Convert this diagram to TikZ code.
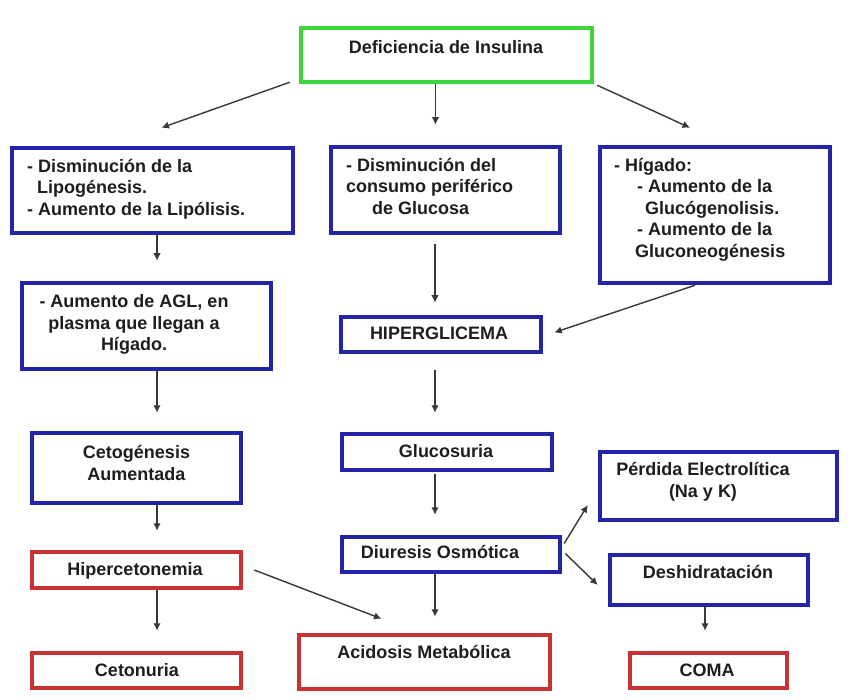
\documentclass[tikz,border=0pt]{standalone}
\usepackage{fontspec}
\setmainfont{Liberation Sans}
\usetikzlibrary{arrows.meta,calc}
\definecolor{bx}{HTML}{2424A8}
\definecolor{rx}{HTML}{C83232}
\definecolor{gx}{HTML}{3CD63C}
\definecolor{tx}{HTML}{1E1E1E}
\definecolor{ax}{HTML}{383838}
\begin{document}
\begin{tikzpicture}[x=1pt,y=-1pt,
 box/.style={draw=bx, line width=4.5pt, fill=white, rectangle, inner sep=0pt},
 redbox/.style={box, draw=rx},
 greenbox/.style={box, draw=gx},
 txt/.style={text=tx, font=\bfseries\fontsize{18}{21.5}\selectfont, inner sep=0pt},
 one/.style={txt, text height=13pt, text depth=3.5pt},
 arr/.style={draw=ax, line width=1.4pt, -{Latex[length=7.5pt,width=7.5pt]}}]
\useasboundingbox (0,0) rectangle (848,700);
\fill[white] (0,0) rectangle (848,700);

% boxes
\node[greenbox, minimum width=291, minimum height=54] (def) at (446.5,55) {};
\node[box, minimum width=281, minimum height=85] (l1) at (152.5,190.5) {};
\node[box, minimum width=229, minimum height=86] (m1) at (445.5,190) {};
\node[box, minimum width=230, minimum height=136] (r1) at (715,215) {};
\node[box, minimum width=249, minimum height=86] (l2) at (146.5,326) {};
\node[box, minimum width=200, minimum height=35] (hip) at (441,334.5) {};
\node[box, minimum width=209, minimum height=70] (ceto) at (136.5,468) {};
\node[box, minimum width=210, minimum height=36] (glu) at (447,452) {};
\node[box, minimum width=237, minimum height=68] (perd) at (718.5,486) {};
\node[box, minimum width=218, minimum height=35] (diu) at (451,554.5) {};
\node[box, minimum width=198, minimum height=50] (desh) at (709,580) {};
\node[redbox, minimum width=209, minimum height=36] (hiperc) at (136.5,570) {};
\node[redbox, minimum width=251, minimum height=54] (acid) at (424.5,662) {};
\node[redbox, minimum width=209, minimum height=35] (cetu) at (136.5,670.5) {};
\node[redbox, minimum width=157, minimum height=35] (coma) at (708.5,670.5) {};

% texts
\node[one] (tdef) at (446,49) {Deficiencia de Insulina};
\node[txt, anchor=north west, align=left] (tl1) at (27,159)
  {- Disminución de la\\\hspace*{10pt}Lipogénesis.\\- Aumento de la Lipólisis.};
\node[txt, anchor=north west, align=left] (tm1) at (346,158)
  {- Disminución del\\consumo periférico\\\hspace*{26pt}de Glucosa};
\node[txt, anchor=north west, align=left] (tr1) at (614,158)
  {- Hígado:\\\hspace*{23pt}- Aumento de la\\\hspace*{31pt}Glucógenolisis.\\\hspace*{23pt}- Aumento de la\\\hspace*{21pt}Gluconeogénesis};
\node[txt, anchor=north, align=center] (tl2) at (134,294.5)
  {- Aumento de AGL, en\\plasma que llegan a\\Hígado.};
\node[one] (thip) at (439,335) {HIPERGLICEMA};
\node[txt, anchor=north, align=center] (tceto) at (136.5,445.5)
  {Cetogénesis\\Aumentada};
\node[one] (tglu) at (446,453) {Glucosuria};
\node[txt, anchor=north, align=center] (tperd) at (703,462.5)
  {Pérdida Electrolítica\\(Na y K)};
\node[one] (tdiu) at (440,554) {Diuresis Osmótica};
\node[one] (tdesh) at (708,574) {Deshidratación};
\node[one] (thiperc) at (135,571) {Hipercetonemia};
\node[one] (tacid) at (424,654) {Acidosis Metabólica};
\node[one] (tcetu) at (137,672) {Cetonuria};
\node[one] (tcoma) at (707,672) {COMA};

% arrows
\draw[arr] ($(def.south west)+(-9,-2)$) -- ($(l1.north)+(9,-18)$);
\draw[arr] ($(def.south)+(-11,0)$) -- ($(m1.north)+(-10,-20)$);
\draw[arr] ($(def.south east)+(3,1)$) -- ($(r1.north)+(-25,-17)$);
\draw[arr] ($(l1.south)+(4.5,0)$) -- ($(l2.north)+(10.5,-20)$);
\draw[arr] ($(m1.south)+(-10.5,9)$) -- ($(hip.north)+(-6,-12)$);
\draw[arr] ($(r1.south)+(-20,0)$) -- ($(hip.east)+(11,-2)$);
\draw[arr] ($(l2.south)+(10.5,0)$) -- ($(ceto.north)+(20.5,-18)$);
\draw[arr] ($(hip.south)+(-6,16)$) -- ($(glu.north)+(-12,-19)$);
\draw[arr] ($(ceto.south)+(20.5,0)$) -- ($(hiperc.north)+(20.5,-19)$);
\draw[arr] ($(glu.south)+(-12,2)$) -- ($(diu.north)+(-16,-20)$);
\draw[arr] ($(diu.east)+(2,-11)$) -- ($(perd.west)+(-10,19)$);
\draw[arr] ($(diu.east)+(3,-1)$) -- ($(desh.west)+(-10,5)$);
\draw[arr] ($(hiperc.east)+(11,0)$) -- ($(acid.north)+(-43,-14)$);
\draw[arr] ($(diu.south)+(-16,0)$) -- ($(acid.north)+(10.5,-16)$);
\draw[arr] ($(hiperc.south)+(20.5,0)$) -- ($(cetu.north)+(20.5,-20)$);
\draw[arr] ($(desh.south)+(-4,0)$) -- ($(coma.north)+(-3.5,-20)$);
\end{tikzpicture}
\end{document}
